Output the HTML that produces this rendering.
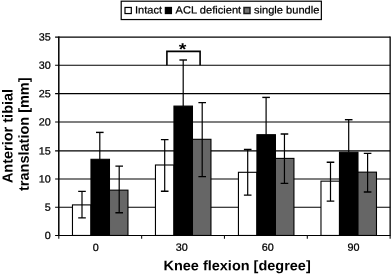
<!DOCTYPE html>
<html><head><meta charset="utf-8"><title>Chart</title>
<style>html,body{margin:0;padding:0;background:#fff;overflow:hidden}body{width:392px;height:274px;position:relative}</style></head>
<body>
<svg width="392" height="274" viewBox="0 0 392 274" style="display:block;position:absolute;left:0;top:0">
<rect x="0" y="0" width="392" height="274" fill="#fff"/>
<line x1="55.10" y1="235.46" x2="390.15" y2="235.46" stroke="#000" stroke-width="1.1"/>
<line x1="55.10" y1="207.30" x2="390.15" y2="207.30" stroke="#000" stroke-width="1.1"/>
<line x1="55.10" y1="179.00" x2="390.15" y2="179.00" stroke="#000" stroke-width="1.1"/>
<line x1="55.10" y1="150.85" x2="390.15" y2="150.85" stroke="#000" stroke-width="1.1"/>
<line x1="55.10" y1="121.95" x2="390.15" y2="121.95" stroke="#000" stroke-width="1.1"/>
<line x1="55.10" y1="93.60" x2="390.15" y2="93.60" stroke="#000" stroke-width="1.1"/>
<line x1="55.10" y1="65.30" x2="390.15" y2="65.30" stroke="#000" stroke-width="1.1"/>
<line x1="55.10" y1="37.05" x2="390.15" y2="37.05" stroke="#000" stroke-width="1.35"/>
<line x1="58.80" y1="36.56" x2="58.80" y2="236.06" stroke="#000" stroke-width="1.5"/>
<line x1="390.15" y1="36.56" x2="390.15" y2="236.06" stroke="#000" stroke-width="1.3"/>
<line x1="58.80" y1="235.46" x2="58.80" y2="238.76" stroke="#111" stroke-width="1.1"/>
<line x1="141.64" y1="235.46" x2="141.64" y2="238.76" stroke="#111" stroke-width="1.1"/>
<line x1="224.47" y1="235.46" x2="224.47" y2="238.76" stroke="#111" stroke-width="1.1"/>
<line x1="307.31" y1="235.46" x2="307.31" y2="238.76" stroke="#111" stroke-width="1.1"/>
<line x1="390.15" y1="235.46" x2="390.15" y2="238.76" stroke="#111" stroke-width="1.1"/>
<rect x="72.47" y="204.90" width="18.50" height="30.56" fill="#ffffff" stroke="#000" stroke-width="1.1"/>
<rect x="90.97" y="159.30" width="18.50" height="76.16" fill="#000000" stroke="#000" stroke-width="1.1"/>
<rect x="109.47" y="190.15" width="18.50" height="45.31" fill="#666666" stroke="#000" stroke-width="1.1"/>
<path d="M82.00 191.40V217.90" stroke="#000" stroke-width="1.2" fill="none"/>
<path d="M78.20 191.40H85.80M78.20 217.90H85.80" stroke="#000" stroke-width="1.4" fill="none"/>
<path d="M99.80 132.40V159.30" stroke="#000" stroke-width="1.2" fill="none"/>
<path d="M96.00 132.40H103.60" stroke="#000" stroke-width="1.4" fill="none"/>
<path d="M119.20 166.10V212.70" stroke="#000" stroke-width="1.2" fill="none"/>
<path d="M115.40 166.10H123.00M115.40 212.70H123.00" stroke="#000" stroke-width="1.4" fill="none"/>
<rect x="155.46" y="165.00" width="18.50" height="70.46" fill="#ffffff" stroke="#000" stroke-width="1.1"/>
<rect x="173.96" y="106.10" width="18.50" height="129.36" fill="#000000" stroke="#000" stroke-width="1.1"/>
<rect x="192.46" y="139.30" width="18.50" height="96.16" fill="#666666" stroke="#000" stroke-width="1.1"/>
<path d="M164.70 139.60V191.20" stroke="#000" stroke-width="1.2" fill="none"/>
<path d="M160.90 139.60H168.50M160.90 191.20H168.50" stroke="#000" stroke-width="1.4" fill="none"/>
<path d="M183.20 60.00V106.10" stroke="#000" stroke-width="1.2" fill="none"/>
<path d="M179.40 60.00H187.00" stroke="#000" stroke-width="1.4" fill="none"/>
<path d="M202.20 102.60V176.60" stroke="#000" stroke-width="1.2" fill="none"/>
<path d="M198.40 102.60H206.00M198.40 176.60H206.00" stroke="#000" stroke-width="1.4" fill="none"/>
<rect x="238.44" y="172.30" width="18.50" height="63.16" fill="#ffffff" stroke="#000" stroke-width="1.1"/>
<rect x="256.94" y="134.70" width="18.50" height="100.76" fill="#000000" stroke="#000" stroke-width="1.1"/>
<rect x="275.44" y="158.40" width="18.50" height="77.06" fill="#666666" stroke="#000" stroke-width="1.1"/>
<path d="M247.70 149.50V195.10" stroke="#000" stroke-width="1.2" fill="none"/>
<path d="M243.90 149.50H251.50M243.90 195.10H251.50" stroke="#000" stroke-width="1.4" fill="none"/>
<path d="M266.10 97.40V134.70" stroke="#000" stroke-width="1.2" fill="none"/>
<path d="M262.30 97.40H269.90" stroke="#000" stroke-width="1.4" fill="none"/>
<path d="M284.45 134.00V183.40" stroke="#000" stroke-width="1.2" fill="none"/>
<path d="M280.65 134.00H288.25M280.65 183.40H288.25" stroke="#000" stroke-width="1.4" fill="none"/>
<rect x="320.98" y="181.15" width="18.50" height="54.31" fill="#ffffff" stroke="#000" stroke-width="1.1"/>
<rect x="339.48" y="152.20" width="18.50" height="83.26" fill="#000000" stroke="#000" stroke-width="1.1"/>
<rect x="357.98" y="172.15" width="18.50" height="63.31" fill="#666666" stroke="#000" stroke-width="1.1"/>
<path d="M330.50 162.20V201.10" stroke="#000" stroke-width="1.2" fill="none"/>
<path d="M326.70 162.20H334.30M326.70 201.10H334.30" stroke="#000" stroke-width="1.4" fill="none"/>
<path d="M348.70 119.70V152.20" stroke="#000" stroke-width="1.2" fill="none"/>
<path d="M344.90 119.70H352.50" stroke="#000" stroke-width="1.4" fill="none"/>
<path d="M367.60 153.40V192.00" stroke="#000" stroke-width="1.2" fill="none"/>
<path d="M363.80 153.40H371.40M363.80 192.00H371.40" stroke="#000" stroke-width="1.4" fill="none"/>
<path d="M166.9 65.3V51.4H200.1V65.3" stroke="#000" stroke-width="1.6" fill="none"/>
<rect x="121.2" y="1.2" width="200.15" height="18.35" fill="#fff" stroke="#000" stroke-width="1.2"/>
<rect x="125.0" y="7.45" width="6.3" height="6.1" fill="#fff" stroke="#000" stroke-width="1.2"/>
<rect x="165.35" y="7.45" width="6.1" height="6.1" fill="#000" stroke="#000" stroke-width="1.2"/>
<rect x="244.0" y="7.5" width="6.0" height="6.0" fill="#757575" stroke="#1c1c1c" stroke-width="1.5"/>
<text transform="translate(134.95 13.55) rotate(0.05) scale(1 0.95)" font-family="Liberation Sans, Arial, sans-serif" font-size="11.1" fill="#000" stroke="#000" stroke-width="0.25">Intact</text>
<text transform="translate(175.60 13.55) rotate(0.05) scale(1 0.95)" font-family="Liberation Sans, Arial, sans-serif" font-size="11.1" fill="#000" stroke="#000" stroke-width="0.25">ACL deficient</text>
<text transform="translate(254.00 13.55) rotate(0.05) scale(1 0.95)" font-family="Liberation Sans, Arial, sans-serif" font-size="11.1" fill="#000" stroke="#000" stroke-width="0.25">single bundle</text>
<text transform="translate(182.50 54.75) rotate(0.05) scale(1.12 0.95)" text-anchor="middle" font-family="Liberation Sans, Arial, sans-serif" font-size="17.5" font-weight="bold" fill="#000">*</text>
<text transform="translate(50.80 239.03) rotate(0.05) scale(1 0.975)" text-anchor="end" font-family="Liberation Sans, Arial, sans-serif" font-size="10.8" fill="#000" stroke="#000" stroke-width="0.25">0</text>
<text transform="translate(50.80 210.87) rotate(0.05) scale(1 0.975)" text-anchor="end" font-family="Liberation Sans, Arial, sans-serif" font-size="10.8" fill="#000" stroke="#000" stroke-width="0.25">5</text>
<text transform="translate(50.80 182.57) rotate(0.05) scale(1 0.975)" text-anchor="end" font-family="Liberation Sans, Arial, sans-serif" font-size="10.8" fill="#000" stroke="#000" stroke-width="0.25">10</text>
<text transform="translate(50.80 154.42) rotate(0.05) scale(1 0.975)" text-anchor="end" font-family="Liberation Sans, Arial, sans-serif" font-size="10.8" fill="#000" stroke="#000" stroke-width="0.25">15</text>
<text transform="translate(50.80 125.52) rotate(0.05) scale(1 0.975)" text-anchor="end" font-family="Liberation Sans, Arial, sans-serif" font-size="10.8" fill="#000" stroke="#000" stroke-width="0.25">20</text>
<text transform="translate(50.80 97.17) rotate(0.05) scale(1 0.975)" text-anchor="end" font-family="Liberation Sans, Arial, sans-serif" font-size="10.8" fill="#000" stroke="#000" stroke-width="0.25">25</text>
<text transform="translate(50.80 68.87) rotate(0.05) scale(1 0.975)" text-anchor="end" font-family="Liberation Sans, Arial, sans-serif" font-size="10.8" fill="#000" stroke="#000" stroke-width="0.25">30</text>
<text transform="translate(50.80 40.62) rotate(0.05) scale(1 0.975)" text-anchor="end" font-family="Liberation Sans, Arial, sans-serif" font-size="10.8" fill="#000" stroke="#000" stroke-width="0.25">35</text>
<text transform="translate(95.70 251.10) rotate(0.05) scale(1 0.975)" text-anchor="middle" font-family="Liberation Sans, Arial, sans-serif" font-size="10.8" fill="#000" stroke="#000" stroke-width="0.25">0</text>
<text transform="translate(181.70 250.87) rotate(0.05) scale(1 0.975)" text-anchor="middle" font-family="Liberation Sans, Arial, sans-serif" font-size="10.8" fill="#000" stroke="#000" stroke-width="0.25">30</text>
<text transform="translate(267.80 250.87) rotate(0.05) scale(1 0.975)" text-anchor="middle" font-family="Liberation Sans, Arial, sans-serif" font-size="10.8" fill="#000" stroke="#000" stroke-width="0.25">60</text>
<text transform="translate(353.60 250.65) rotate(0.05) scale(1 0.975)" text-anchor="middle" font-family="Liberation Sans, Arial, sans-serif" font-size="10.8" fill="#000" stroke="#000" stroke-width="0.25">90</text>
<text transform="translate(237.10 270.30) rotate(0.05) scale(1 0.955)" text-anchor="middle" font-family="Liberation Sans, Arial, sans-serif" font-size="14.5" font-weight="bold" fill="#000">Knee flexion [degree]</text>
<text transform="translate(12.45 136.0) rotate(-89.95)" text-anchor="middle" font-family="Liberation Sans, Arial, sans-serif" font-size="14.5" font-weight="bold" fill="#000">Anterior tibial</text>
<text transform="translate(28.8 134.2) rotate(-89.95)" text-anchor="middle" font-family="Liberation Sans, Arial, sans-serif" font-size="14.5" font-weight="bold" fill="#000">translation [mm]</text>
</svg>
</body></html>
